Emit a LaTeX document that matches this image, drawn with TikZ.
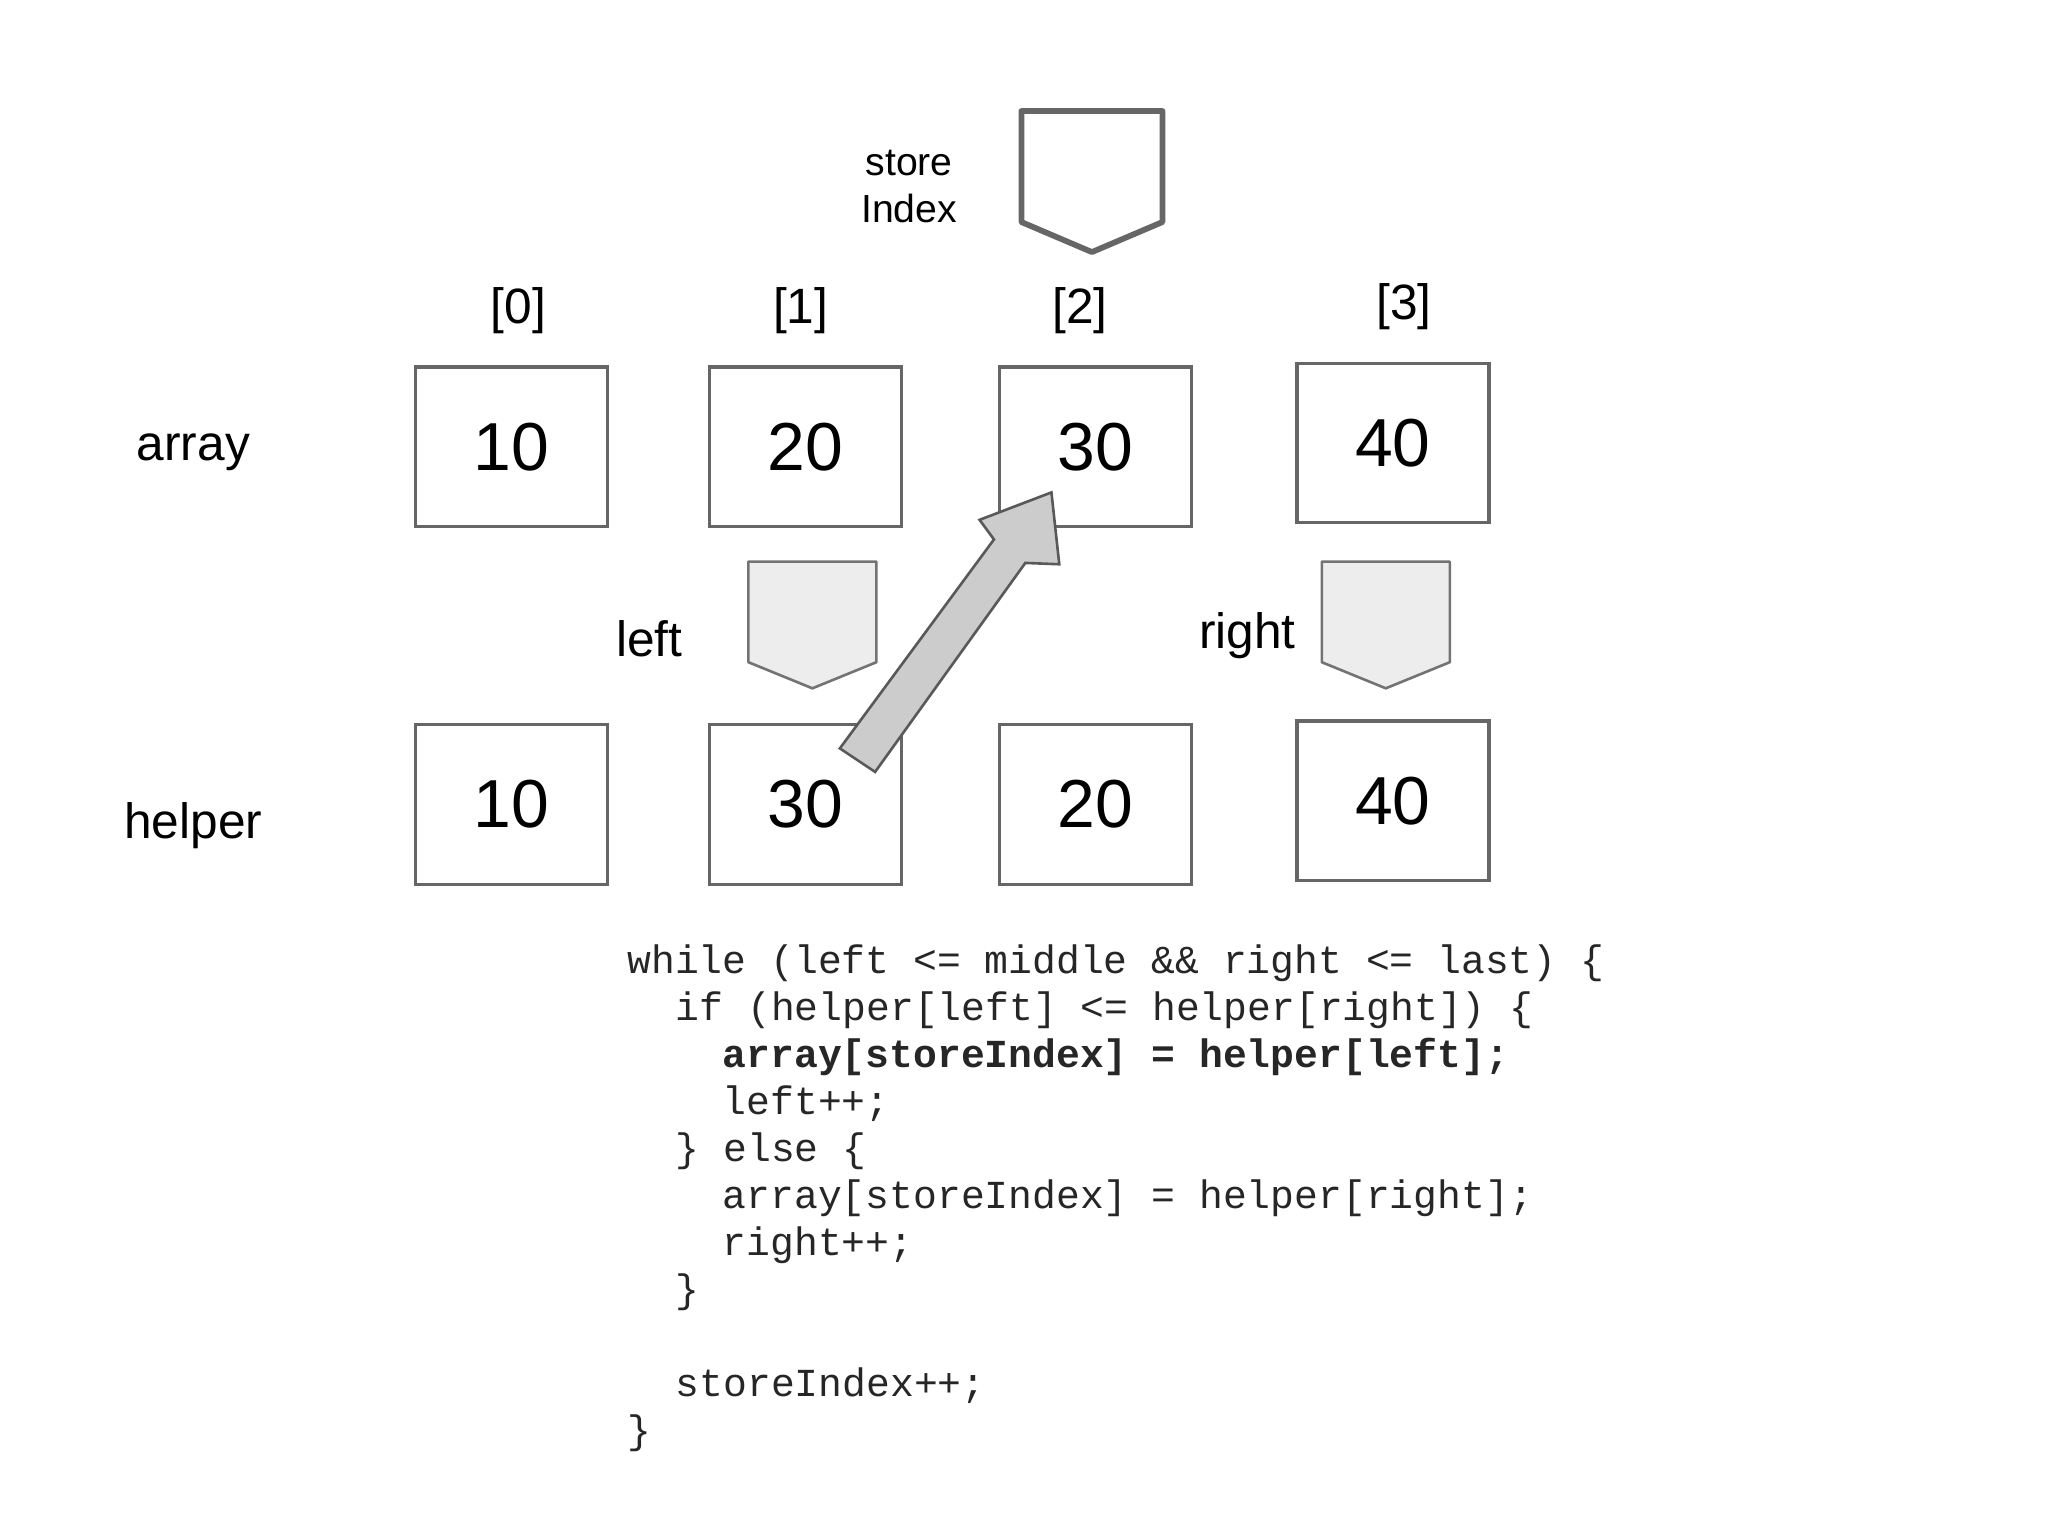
\documentclass[tikz,border=0pt]{standalone}
\usepackage{fontspec}
\setmainfont{Liberation Sans}
\newfontfamily\codefont{Liberation Mono}
\begin{document}
\begin{tikzpicture}[x=0.5pt,y=-0.5pt,
  cell/.style={draw=black!60,line width=1.2pt,minimum width=73.5pt,minimum height=61pt,inner sep=0pt,font=\fontsize{26}{30}\selectfont},
  lbl/.style={font=\fontsize{19}{22}\selectfont},
  code/.style={anchor=base west,inner sep=0pt,font=\codefont\fontsize{15.2}{18}\selectfont,text=black!85},
  ptr/.style={draw=black!55,line width=1pt,fill=black!7,line join=round}]
\useasboundingbox (0,0) rectangle (1568,1176);
% array row
\node[cell] (a0) at (391.5,342) {10};
\node[cell] (a1) at (616.5,342) {20};
\node[cell] (a2) at (838.5,342) {30};
\node[cell] (a3) at (1066.5,339) {40};
% helper row
\node[cell] (h0) at (391.5,616) {10};
\node[cell] (h1) at (616.5,616) {30};
\node[cell] (h2) at (838.5,616) {20};
\node[cell] (h3) at (1066.5,613) {40};
\node[lbl] (la) at (148,346) {array};
\node[lbl] (lh) at (148,632) {helper};
\node[lbl] (i0) at (397,238) {[0]};
\node[lbl] (i1) at (613,238) {[1]};
\node[lbl] (i2) at (827,238) {[2]};
\node[lbl] (i3) at (1075,235) {[3]};
% storeIndex pointer
\draw[draw=black!60,line width=2.2pt,fill=white,line join=round] (782,85) -- (890,85) -- (890,170) -- (836,193) -- (782,170) -- cycle;
\node[align=center,font=\fontsize{15}{18}\selectfont] (si) at (696,143) {store\\Index};
% left / right pointers
\draw[ptr] (573,430) -- (671,430) -- (671,507) -- (622,527) -- (573,507) -- cycle;
\draw[ptr] (1012,430) -- (1110,430) -- (1110,507) -- (1061,527) -- (1012,507) -- cycle;
\node[lbl] (ll) at (497,489) {left};
\node[lbl] (lr) at (955,487) {right};
% block arrow
\draw[draw=black!65,line width=1pt,fill=black!20,line join=miter]
  (670,591) -- (785,431) -- (811,432) -- (805,377) -- (750,398) -- (761,413) -- (643,573) -- cycle;
% code
\node[code] (c1) at (480,745) {while (left <= middle \&\& right <= last) \{};
\node[code] (c2) at (517,781) {if (helper[left] <= helper[right]) \{};
\node[code] (c3) at (553,817) {\bfseries array[storeIndex] = helper[left];};
\node[code] (c4) at (553,853) {left++;};
\node[code] (c5) at (517,889) {\} else \{};
\node[code] (c6) at (553,925) {array[storeIndex] = helper[right];};
\node[code] (c7) at (553,961) {right++;};
\node[code] (c8) at (517,997) {\}};
\node[code] (c9) at (517,1069) {storeIndex++;};
\node[code] (c10) at (480,1105) {\}};
\end{tikzpicture}
\end{document}
